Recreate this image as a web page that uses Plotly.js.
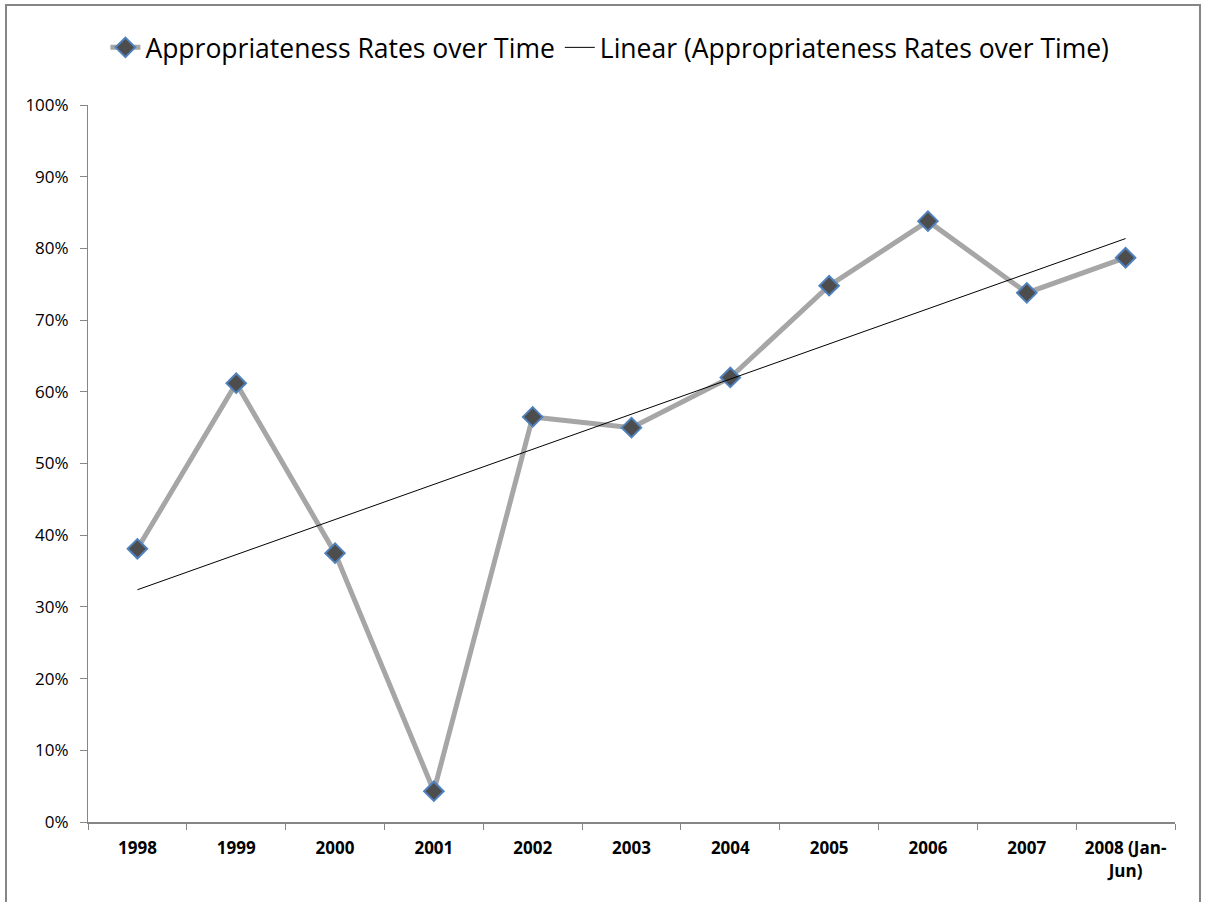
<!DOCTYPE html>
<html>
<head>
<meta charset="utf-8">
<script src="https://cdn.plot.ly/plotly-3.0.1.min.js"></script>
<style>
html,body{margin:0;padding:0;background:#fff;overflow:hidden;}
#frame{position:absolute;left:5px;top:4px;width:1196px;height:1000px;border:2px solid #868686;box-sizing:border-box;pointer-events:none;}
#chart{position:absolute;left:0;top:0;width:1205px;height:902px;}
</style>
</head>
<body>
<div id="chart"></div>
<div id="frame"></div>
<script>
const categories = ["1998","1999","2000","2001","2002","2003","2004","2005","2006","2007","2008 (Jan-<br>Jun)"];
const rates = [0.381, 0.612, 0.375, 0.043, 0.565, 0.550, 0.620, 0.748, 0.838, 0.738, 0.787];
const yTickVals = [0,0.1,0.2,0.3,0.4,0.5,0.6,0.7,0.8,0.9,1.0];
const yTickText = ["0%","10%","20%","30%","40%","50%","60%","70%","80%","90%","100%"];

// least-squares linear trendline over category index (Excel "Linear" trendline)
const n = rates.length;
const xs = rates.map((_, i) => i + 1);
const mx = xs.reduce((a,b)=>a+b,0)/n;
const my = rates.reduce((a,b)=>a+b,0)/n;
let sxy = 0, sxx = 0;
for (let i = 0; i < n; i++) { sxy += (xs[i]-mx)*(rates[i]-my); sxx += (xs[i]-mx)*(xs[i]-mx); }
const slope = sxy/sxx, intercept = my - slope*mx;
const trend = xs.map(x => intercept + slope*x);

const traces = [
  {
    x: categories, y: rates, type: 'scatter', mode: 'lines+markers',
    name: 'Appropriateness Rates over Time',
    line: {color: '#a6a6a6', width: 5},
    marker: {symbol: 'diamond', size: 15, color: '#4d4d4d', line: {color: '#4f81bd', width: 2}}
  },
  {
    x: categories, y: trend, type: 'scatter', mode: 'lines',
    name: 'Linear (Appropriateness Rates over Time)',
    line: {color: '#000000', width: 1}
  }
];

const layout = {
  width: 1205, height: 902,
  margin: {l: 88, r: 30, t: 105, b: 80, autoexpand: false},
  paper_bgcolor: '#ffffff', plot_bgcolor: '#ffffff',
  showlegend: true,
  legend: {
    orientation: 'h', x: 0.016, xanchor: 'left', y: 1.08, yanchor: 'middle',
    font: {family: 'Open Sans, sans-serif', size: 26.5, color: '#000'},
    itemwidth: 30, tracegroupgap: 0
  },
  xaxis: {
    type: 'category', range: [-0.5, 10.5],
    showgrid: false, zeroline: false,
    showline: true, linecolor: '#868686', linewidth: 2,
    ticks: 'outside', ticklen: 6, tickcolor: '#868686', tickwidth: 1,
    tickson: 'boundaries',
    tickfont: {family: 'Open Sans, sans-serif', size: 17, color: '#000', weight: 'bold'},
    tickangle: 0, ticklabelstandoff: 10
  },
  yaxis: {
    range: [0, 1], tickvals: yTickVals, ticktext: yTickText,
    showgrid: false, zeroline: false,
    showline: true, linecolor: '#868686', linewidth: 1,
    ticks: 'outside', ticklen: 7, tickcolor: '#868686', tickwidth: 1,
    tickfont: {family: 'Open Sans, sans-serif', size: 17, color: '#000'},
    ticklabelstandoff: 8
  }
};

Plotly.newPlot('chart', traces, layout, {displayModeBar: false, staticPlot: true});
</script>
</body>
</html>
